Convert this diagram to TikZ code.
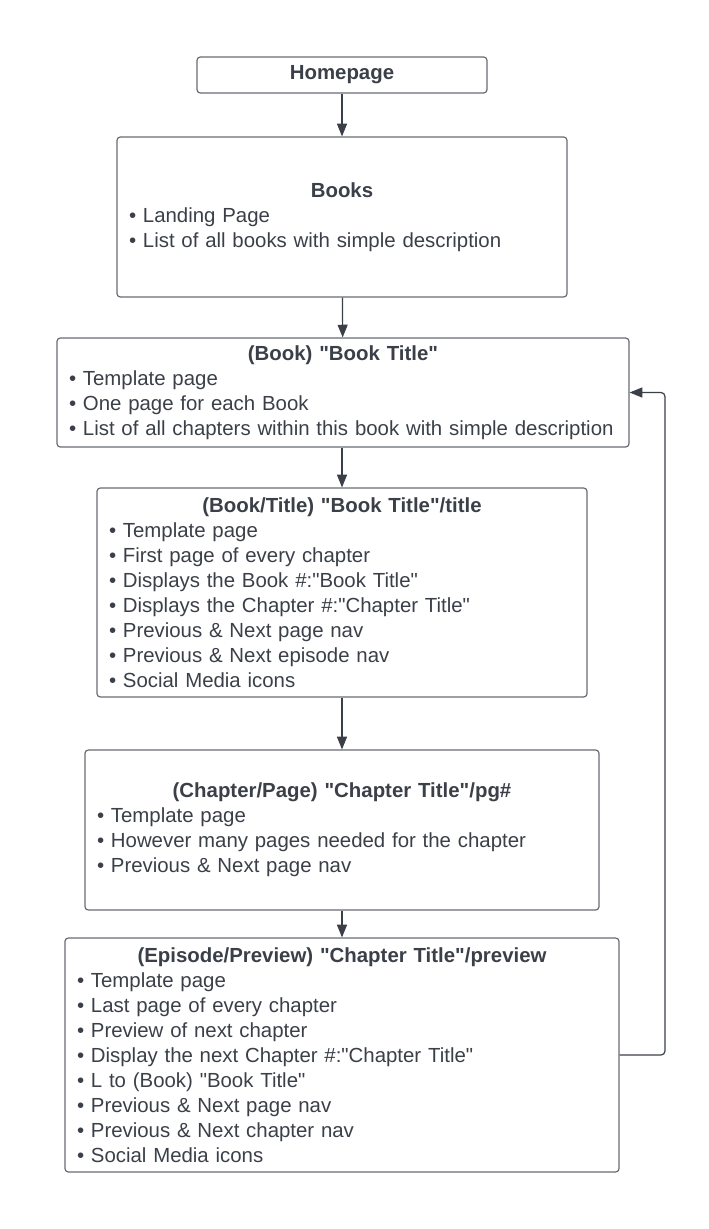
\documentclass[tikz,border=0pt]{standalone}
\usepackage{fontspec}
\setmainfont{Liberation Sans}
\usetikzlibrary{arrows.meta}
\definecolor{inkgray}{HTML}{3A3F48}
\definecolor{edgegray}{HTML}{676B72}
\tikzset{pagebox/.style={draw=edgegray,line width=0.9pt,rounded corners=2.5pt,
    text=inkgray,align=left,inner xsep=9pt,inner ysep=0pt,
    font=\fontsize{15.3}{18.75}\selectfont},
  flow/.style={draw=inkgray,line width=0.9pt,-{Triangle[length=9.5pt,width=7.5pt]}}}
\newcommand{\boxtitle}[1]{\makebox[\linewidth]{\bfseries #1}}
\newcommand{\itm}{\textbullet\ }
\newcommand{\q}{\textquotedbl}

\begin{document}
\begin{tikzpicture}[x=0.75pt,y=-0.75pt]
  \useasboundingbox (0,0) rectangle (709,1229);

  \node [pagebox,minimum width=217.5pt,minimum height=27pt,text width=199.5pt]
    (home) at (342,75) {\boxtitle{Homepage}};
  \node [pagebox,minimum width=337.5pt,minimum height=120pt,text width=319.5pt]
    (books) at (342,217) {\boxtitle{Books}\\
      \itm Landing Page\\
      \itm List of all books with simple description};
  \node [pagebox,minimum width=429pt,minimum height=81.75pt,text width=411pt]
    (book) at (343,392.5) {\boxtitle{(Book) \q Book Title\q}\\
      \itm Template page\\
      \itm One page for each Book\\
      \itm List of all chapters within this book with simple description};
  \node [pagebox,minimum width=367.5pt,minimum height=156.75pt,text width=349.5pt]
    (title) at (342,592.5) {\boxtitle{(Book/Title) \q Book Title\q/title}\\
      \itm Template page\\
      \itm First page of every chapter\\
      \itm Displays the Book \#:\q Book Title\q\\
      \itm Displays the Chapter \#:\q Chapter Title\q\\
      \itm Previous \& Next page nav\\
      \itm Previous \& Next episode nav\\
      \itm Social Media icons};
  \node [pagebox,minimum width=385.5pt,minimum height=120pt,text width=367.5pt]
    (page) at (342,830) {\boxtitle{(Chapter/Page) \q Chapter Title\q/pg\#}\\
      \itm Template page\\
      \itm However many pages needed for the chapter\\
      \itm Previous \& Next page nav};
  \node [pagebox,minimum width=415.5pt,minimum height=175.5pt,text width=397.5pt]
    (preview) at (342,1055) {\boxtitle{(Episode/Preview) \q Chapter Title\q/preview}\\
      \itm Template page\\
      \itm Last page of every chapter\\
      \itm Preview of next chapter\\
      \itm Display the next Chapter \#:\q Chapter Title\q\\
      \itm L to (Book) \q Book Title\q\\
      \itm Previous \& Next page nav\\
      \itm Previous \& Next chapter nav\\
      \itm Social Media icons};

  \coordinate (loopdown) at (665,1055);
  \coordinate (loopup)   at (665,392.5);

  \draw [flow] (home) -- (books);
  \draw [flow] (books) -- (book);
  \draw [flow] (book.south -| title.north) -- (title);
  \draw [flow] (title) -- (page);
  \draw [flow] (page) -- (preview);
  \draw [flow,rounded corners=3pt] (preview.east) -- (loopdown) -- (loopup) -- (book.east);
\end{tikzpicture}
\end{document}
